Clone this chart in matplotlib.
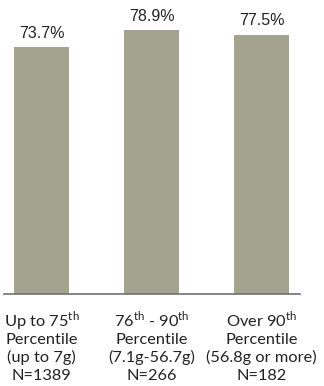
"""Bar chart of percentages by consumption percentile."""
import matplotlib
matplotlib.use('Agg')
import matplotlib.pyplot as plt
from matplotlib import transforms

categories = [
    ['Up to 75$^{\\mathrm{th}}$', 'Percentile', '(up to 7g)', 'N=1389'],
    ['76$^{\\mathrm{th}}$ - 90$^{\\mathrm{th}}$', 'Percentile', '(7.1g-56.7g)', 'N=266'],
    ['Over 90$^{\\mathrm{th}}$', 'Percentile', '(56.8g or more)', 'N=182'],
]
values = [73.7, 78.9, 77.5]
value_labels = ['73.7%', '78.9%', '77.5%']

plt.rcParams['font.family'] = ['Lato', 'DejaVu Sans']
plt.rcParams['mathtext.fontset'] = 'custom'
plt.rcParams['mathtext.rm'] = 'Lato'

fig = plt.figure(figsize=(3.24, 3.86), dpi=100)
ax = fig.add_axes([4 / 324, 1 - 294 / 386, 296 / 324, 294 / 386])

x = list(range(len(values)))
bars = ax.bar(x, values, width=0.5, color='#a4a38f')

for b, lab in zip(bars, value_labels):
    ax.annotate(lab, (b.get_x() + b.get_width() / 2, b.get_height()),
                xytext=(0, 6.8), textcoords='offset points',
                ha='center', va='baseline', fontsize=11.5, color='#222222',
                family='Liberation Sans')

# category labels, one line at a time so the superscripts don't stretch spacing
trans = transforms.blended_transform_factory(ax.transData, ax.transAxes)
for xi, lines in zip(x, categories):
    for i, line in enumerate(lines):
        dy = -23.2 - i * 13.0
        ax.annotate(line, (xi, 0), xycoords=trans,
                    xytext=(0, dy), textcoords='offset points',
                    ha='center', va='baseline', fontsize=11.8, color='#222222',
                    annotation_clip=False)

ax.set_xlim(-0.34, 2.35)
ax.set_ylim(0, 87.9)
ax.set_xticks([])
ax.set_yticks([])
for side in ['top', 'right', 'left']:
    ax.spines[side].set_visible(False)
ax.spines['bottom'].set_color('#707070')
ax.spines['bottom'].set_linewidth(1.2)

fig.savefig('out.png', dpi=100)
